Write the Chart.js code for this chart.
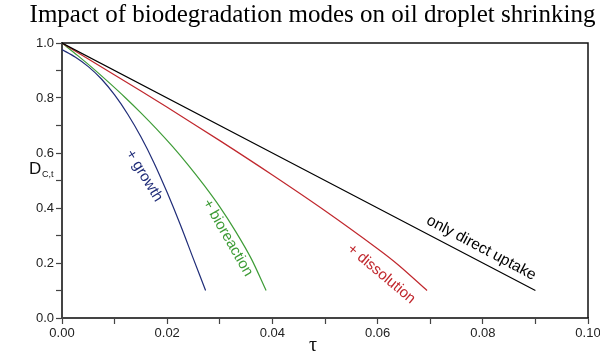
<!DOCTYPE html>
<html>
<head>
<meta charset="utf-8">
<script src="https://cdn.jsdelivr.net/npm/chart.js@4.4.1/dist/chart.umd.min.js"></script>
<style>
  html, body { margin: 0; padding: 0; background: #fff; }
  #wrap { width: 600px; height: 362px; }
</style>
</head>
<body>
<div id="wrap"><canvas id="chart" width="600" height="362"></canvas></div>
<script>
// values
const tauUptake = [0, 0.09];
const dUptake = [1.0, 0.10];

const tauDissolution = [0, 0.01, 0.02, 0.03, 0.04, 0.05, 0.06, 0.064, 0.0694];
const dDissolution = [1.0, 0.884, 0.766, 0.645, 0.52, 0.39, 0.252, 0.192, 0.10];

const tauBioreaction = [0, 0.003, 0.006, 0.009, 0.012, 0.015, 0.018, 0.021, 0.024, 0.027, 0.030, 0.033, 0.036, 0.0388];
const dBioreaction = [1.0, 0.954, 0.906, 0.855, 0.802, 0.746, 0.687, 0.624, 0.556, 0.483, 0.404, 0.315, 0.215, 0.10];

const tauGrowth = [0, 0.0025, 0.005, 0.0075, 0.010, 0.0125, 0.015, 0.0175, 0.020, 0.0225, 0.025, 0.0273];
const dGrowth = [0.976, 0.949, 0.914, 0.869, 0.811, 0.741, 0.659, 0.564, 0.456, 0.339, 0.214, 0.10];

const xTicks = ['0.00', '0.02', '0.04', '0.06', '0.08', '0.10'];
const yTicks = ['0.0', '0.2', '0.4', '0.6', '0.8', '1.0'];

const colors = {
    uptake: '#000000',
    dissolution: '#c0272d',
    bioreaction: '#3e9c37',
    growth: '#1f2c78'
};

// curve captions: anchor in data units, angle in degrees
const captions = [
    { text: '+ growth', x: 0.0156, y: 0.517, angle: 58.5, size: 15, color: colors.growth },
    { text: '+ bioreaction', x: 0.0315, y: 0.292, angle: 60, size: 15, color: colors.bioreaction },
    { text: '+ dissolution', x: 0.0607, y: 0.160, angle: 40, size: 15, color: colors.dissolution },
    { text: 'only direct uptake', x: 0.0797, y: 0.255, angle: 28, size: 15.5, color: colors.uptake }
];

const toPoints = (xs, ys) => xs.map((x, i) => ({ x: x, y: ys[i] }));

const line = (label, xs, ys, color) => ({
    label: label,
    data: toPoints(xs, ys),
    borderColor: color,
    backgroundColor: color,
    borderWidth: 1.2,
    pointRadius: 0,
    showLine: true,
    fill: false,
    tension: 0.3
});

const framePlugin = {
    id: 'frame',
    afterDraw(chart) {
        const { ctx, chartArea: a, scales } = chart;
        ctx.save();
        ctx.strokeStyle = '#111';
        ctx.lineWidth = 1.5;
        ctx.beginPath();
        ctx.moveTo(a.left, a.top);
        ctx.lineTo(a.right, a.top);
        ctx.lineTo(a.right, a.bottom);
        ctx.stroke();

        // captions along the curves
        ctx.textAlign = 'center';
        ctx.textBaseline = 'middle';
        captions.forEach(c => {
            ctx.save();
            ctx.font = c.size + 'px "Liberation Sans", Arial, sans-serif';
            ctx.translate(scales.x.getPixelForValue(c.x), scales.y.getPixelForValue(c.y));
            ctx.rotate(c.angle * Math.PI / 180);
            ctx.fillStyle = c.color;
            ctx.fillText(c.text, 0, 0);
            ctx.restore();
        });

        // axis titles
        ctx.fillStyle = '#111';
        ctx.font = '20px "Liberation Serif", serif';
        ctx.fillText('τ', 313, 346);

        ctx.textAlign = 'left';
        ctx.font = '17px "Liberation Sans", Arial, sans-serif';
        ctx.fillText('D', 29, 169);
        ctx.font = '9px "Liberation Sans", Arial, sans-serif';
        ctx.fillText('C,t', 42, 175);
        ctx.restore();
    }
};

new Chart(document.getElementById('chart'), {
    type: 'scatter',
    data: {
        datasets: [
            line('only direct uptake', tauUptake, dUptake, colors.uptake),
            line('+ dissolution', tauDissolution, dDissolution, colors.dissolution),
            line('+ bioreaction', tauBioreaction, dBioreaction, colors.bioreaction),
            line('+ growth', tauGrowth, dGrowth, colors.growth)
        ]
    },
    options: {
        responsive: false,
        animation: false,
        layout: { padding: { left: 25, right: 0, top: 0, bottom: 0 } },
        plugins: {
            legend: { display: false },
            tooltip: { enabled: false },
            title: {
                display: true,
                text: 'Impact of biodegradation modes on oil droplet shrinking',
                color: '#000',
                font: { family: '"Liberation Serif", "Times New Roman", serif', size: 25, weight: 'normal' },
                padding: { top: 0, bottom: 13 }
            }
        },
        scales: {
            x: {
                type: 'linear',
                min: 0,
                max: 0.1,
                afterFit: s => { s.height = 44; s.paddingRight = 12; s.paddingLeft = 0; },
                border: { display: true, color: '#444', width: 2 },
                grid: { drawOnChartArea: false, drawTicks: true, tickLength: 6, tickColor: '#444', tickWidth: 1.2 },
                ticks: {
                    stepSize: 0.01,
                    autoSkip: false,
                    maxRotation: 0,
                    color: '#222',
                    padding: 2,
                    font: { family: '"Liberation Sans", Arial, sans-serif', size: 13 },
                    callback: (v, i) => (i % 2 === 0 ? xTicks[i / 2] : '')
                }
            },
            y: {
                type: 'linear',
                min: 0,
                max: 1,
                afterFit: s => { s.width = 37; },
                border: { display: true, color: '#444', width: 2 },
                grid: { drawOnChartArea: false, drawTicks: true, tickLength: 6, tickColor: '#444', tickWidth: 1.2 },
                ticks: {
                    stepSize: 0.1,
                    autoSkip: false,
                    color: '#222',
                    padding: 2,
                    font: { family: '"Liberation Sans", Arial, sans-serif', size: 13 },
                    callback: (v, i) => (i % 2 === 0 ? yTicks[i / 2] : '')
                }
            }
        }
    },
    plugins: [framePlugin]
});
</script>
</body>
</html>
